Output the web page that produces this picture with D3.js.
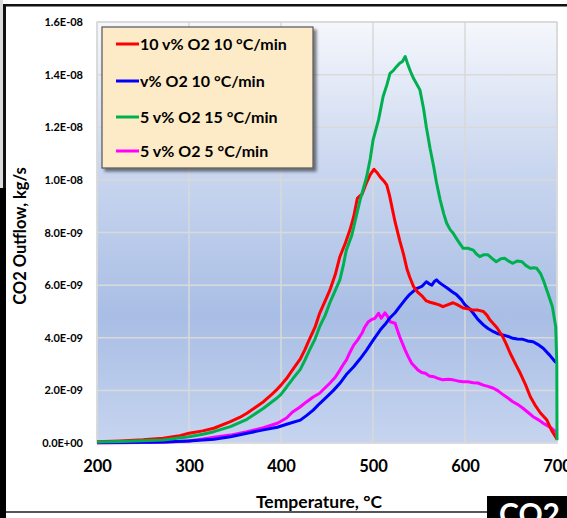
<!DOCTYPE html>
<html><head><meta charset="utf-8">
<script src="https://cdn.jsdelivr.net/npm/d3@7"></script>
<style>
html,body{margin:0;padding:0;background:#fff;}
svg{display:block;}
text{font-family:Lato,"Open Sans",sans-serif;font-weight:bold;}
</style></head>
<body>
<script>
// ---- data (values in units of 1E-09 kg/s) ----
const seriesNames = ["10 v% O2 10 °C/min","v% O2 10 °C/min","5 v% O2 15 °C/min","5 v% O2 5 °C/min"];
const seriesColors = ["#ff0000","#0000ff","#00b050","#ff00ff"];
const xTicks = [200,300,400,500,600,700];
const yTicks = [0,2,4,6,8,10,12,14,16];
const yTickLabels = ["0.0E+00","2.0E-09","4.0E-09","6.0E-09","8.0E-09","1.0E-08","1.2E-08","1.4E-08","1.6E-08"];

const redT = [200,225,250,272,290,300,315,327,345,355,363,372,381,390,396,400,406,411,416,421,426,431,437,442,448,453,459,464,470,475,479,483,486,488,493,497,501,505,508,512,515,518,521,524,529,533,537,540,544,548,554,558,562,567,572,576,581,587,592,598,603,609,614,620,624,627,635,641,645,649,655,660,666,671,676,682,689,694,699,700];
const redV = [0.05,0.08,0.12,0.18,0.28,0.37,0.46,0.56,0.81,0.97,1.13,1.35,1.57,1.85,2.05,2.2,2.45,2.7,2.95,3.2,3.55,3.95,4.4,4.93,5.4,5.8,6.4,7.08,7.6,8.1,8.6,9.3,9.4,9.45,9.9,10.2,10.4,10.25,10.1,9.95,9.8,9.4,8.9,8.4,7.7,7.2,6.6,6.3,5.95,5.75,5.56,5.4,5.35,5.3,5.25,5.18,5.25,5.33,5.25,5.13,5.1,5.05,5.05,5.0,4.85,4.68,4.37,4.04,3.75,3.42,3.0,2.66,2.2,1.76,1.45,1.14,0.87,0.49,0.2,0.15];

const blueT = [200,250,272,300,315,327,345,363,381,396,407,421,428,435,442,450,457,464,471,479,486,493,500,508,513,518,524,529,535,540,545,548,553,558,561,564,567,569,572,576,581,586,591,596,600,605,609,614,620,625,631,636,642,647,652,657,663,668,674,679,685,692,698,700];
const blueV = [0.02,0.03,0.04,0.08,0.11,0.14,0.24,0.37,0.5,0.6,0.72,0.87,1.05,1.25,1.5,1.76,2.0,2.27,2.6,2.9,3.2,3.53,3.9,4.3,4.5,4.74,4.95,5.18,5.45,5.65,5.8,5.88,5.95,6.13,6.05,6.0,6.15,6.2,6.1,6.0,5.88,5.75,5.63,5.45,5.25,5.1,4.93,4.7,4.49,4.35,4.23,4.15,4.1,4.05,3.98,3.95,3.94,3.88,3.85,3.75,3.6,3.34,3.09,3.05];

const greenT = [200,225,250,272,300,315,327,345,363,381,396,400,406,413,421,426,431,437,442,448,453,459,464,468,471,477,481,486,493,497,500,506,511,515,518.5,522,524,529,532,535,538,541,544,551,555,558,562,566,569,573,577,580,584,587,592,598,603,609,612,616,620,625,630,634,639,643,648,652,657,662,666,671,675,678,682,685,690,695,698.6,699.8,700];
const greenV = [0.04,0.06,0.09,0.11,0.24,0.33,0.43,0.62,0.9,1.32,1.72,1.85,2.12,2.45,2.8,3.15,3.53,3.95,4.42,4.85,5.32,5.8,6.2,6.8,7.33,7.9,8.5,9.24,10.1,10.8,11.5,12.28,13.17,13.6,14.05,14.15,14.24,14.43,14.5,14.69,14.37,14.1,13.86,13.42,12.7,12.0,11.2,10.5,9.9,9.24,8.7,8.36,8.1,7.98,7.7,7.4,7.4,7.33,7.2,7.08,7.15,7.15,7.0,6.89,7.0,7.02,6.9,6.83,6.92,6.89,6.75,6.64,6.66,6.64,6.45,6.2,5.7,5.18,4.42,3.0,0.1];

const magT = [200,250,272,300,315,327,345,363,381,396,399,406,413,420,428,435,442,448,453,459,464,468,471,475,479,483,488,491,495,499,502,506,509,513,516,518.5,524,529,535,538,542,549,553,557,561,566,571,576,582,587,592,598,603,609,614,620,625,631,636,642,647,652,658,663,669,674,680,685,690,694,698.6,700];
const magV = [0.0,0.02,0.03,0.08,0.15,0.22,0.3,0.43,0.58,0.75,0.81,0.95,1.19,1.35,1.57,1.75,1.89,2.1,2.27,2.5,2.77,3.0,3.15,3.45,3.72,3.9,4.17,4.4,4.61,4.7,4.74,4.93,4.74,4.95,4.8,4.61,4.55,4.04,3.53,3.3,3.03,2.77,2.68,2.65,2.55,2.52,2.45,2.4,2.42,2.4,2.36,2.33,2.33,2.29,2.28,2.2,2.15,2.08,1.98,1.82,1.7,1.57,1.45,1.32,1.15,1.0,0.88,0.75,0.65,0.56,0.43,0.35];

const seriesT = [redT, blueT, greenT, magT];
const seriesV = [redV, blueV, greenV, magV];

// ---- layout ----
const W = 567, H = 518;
const plot = {l:97, t:22, r:557, b:443};

const svg = d3.select("body").append("svg").attr("width",W).attr("height",H);
const defs = svg.append("defs");
const grad = defs.append("linearGradient").attr("id","bg").attr("x1",0).attr("y1",0).attr("x2",0).attr("y2",1);
[[0,"#f5f7fc"],[0.35,"#c9d6ef"],[0.7,"#a9bee5"],[1,"#c6d4ef"]].forEach(s=>grad.append("stop").attr("offset",s[0]).attr("stop-color",s[1]));
const filt = defs.append("filter").attr("id","sh").attr("x","-10%").attr("y","-10%").attr("width","130%").attr("height","130%");
filt.append("feGaussianBlur").attr("in","SourceAlpha").attr("stdDeviation",1.5);
filt.append("feOffset").attr("dx",3).attr("dy",3).attr("result","ob");
filt.append("feComponentTransfer").append("feFuncA").attr("type","linear").attr("slope",0.5);
const fm = filt.append("feMerge"); fm.append("feMergeNode"); fm.append("feMergeNode").attr("in","SourceGraphic");

// frame decorations
svg.append("rect").attr("x",0).attr("y",0).attr("width",3).attr("height",188).attr("fill","#dcdcdc");
svg.append("rect").attr("x",3).attr("y",4).attr("width",W-3).attr("height",2.5).attr("fill","#111");
svg.append("rect").attr("x",3).attr("y",4).attr("width",3).attr("height",H-4).attr("fill","#111");
svg.append("rect").attr("x",0).attr("y",188).attr("width",6).attr("height",H-188).attr("fill","#000");
svg.append("rect").attr("x",6).attr("y",511).attr("width",482).attr("height",2).attr("fill","#555");

const x = d3.scaleLinear().domain([200,700]).range([plot.l,plot.r]);
const y = d3.scaleLinear().domain([0,16]).range([plot.b,plot.t]);

svg.append("rect").attr("x",plot.l).attr("y",plot.t).attr("width",plot.r-plot.l).attr("height",plot.b-plot.t).attr("fill","url(#bg)");

// grid
svg.append("g").selectAll("line").data(yTicks).join("line")
  .attr("x1",plot.l).attr("x2",plot.r).attr("y1",d=>y(d)).attr("y2",d=>y(d))
  .attr("stroke","#d9d9d9").attr("stroke-width",1.5);
svg.append("g").selectAll("line").data(xTicks).join("line")
  .attr("y1",plot.t).attr("y2",plot.b).attr("x1",d=>x(d)).attr("x2",d=>x(d))
  .attr("stroke","#d9d9d9").attr("stroke-width",1.5);
svg.append("rect").attr("x",plot.l).attr("y",plot.t).attr("width",plot.r-plot.l).attr("height",plot.b-plot.t)
  .attr("fill","none").attr("stroke","#d9d9d9").attr("stroke-width",1.5);

// axes
const xAxis = svg.append("g").attr("transform",`translate(0,${plot.b})`)
  .call(d3.axisBottom(x).tickValues(xTicks).tickSize(0).tickPadding(17).tickFormat(d3.format("d")));
xAxis.select(".domain").remove();
xAxis.selectAll("text").attr("font-size",16.5).attr("fill","#000").attr("font-family","Lato").attr("font-weight","bold");

const yAxis = svg.append("g").attr("transform",`translate(${plot.l},0)`)
  .call(d3.axisLeft(y).tickValues(yTicks).tickSize(0).tickPadding(14).tickFormat((d,i)=>yTickLabels[i]));
yAxis.select(".domain").remove();
yAxis.selectAll("text").attr("font-size",11).attr("fill","#000").attr("font-family","Lato").attr("font-weight","bold");

// lines
const line = d3.line().x(d=>x(d[0])).y(d=>y(d[1]));
const order = [3,1,0,2];
order.forEach(i=>{
  const pts = seriesT[i].map((t,j)=>[t,seriesV[i][j]]);
  svg.append("path").datum(pts).attr("d",line).attr("fill","none")
    .attr("stroke",seriesColors[i]).attr("stroke-width",3).attr("stroke-linejoin","round");
});

// legend
const lg = svg.append("g");
lg.append("rect").attr("x",102).attr("y",27).attr("width",211).attr("height",141)
  .attr("fill","#fdebc8").attr("stroke","#555").attr("stroke-width",1.2).attr("filter","url(#sh)");
const rowsY = [44,81,117,151];
seriesNames.forEach((n,i)=>{
  lg.append("line").attr("x1",116).attr("x2",139).attr("y1",rowsY[i]).attr("y2",rowsY[i])
    .attr("stroke",seriesColors[i]).attr("stroke-width",3);
  lg.append("text").attr("x",140).attr("y",rowsY[i]).attr("dy","0.35em")
    .attr("font-size",16).attr("fill","#000").text(n);
});

// titles
svg.append("text").attr("x",319).attr("y",502).attr("dy","0.35em").attr("text-anchor","middle")
  .attr("font-size",17.5).attr("fill","#000").text("Temperature, °C");
svg.append("text").attr("transform","translate(20,236) rotate(-90)").attr("dy","0.35em").attr("text-anchor","middle")
  .attr("font-size",16.5).attr("fill","#000").text("CO2 Outflow, kg/s");

// bottom-right black box
svg.append("rect").attr("x",487).attr("y",496).attr("width",80).attr("height",22).attr("fill","#000");
svg.append("text").attr("x",499).attr("y",525).attr("font-size",30).attr("fill","#fff")
  .attr("font-family","Liberation Sans").text("CO2");
</script>
</body></html>
